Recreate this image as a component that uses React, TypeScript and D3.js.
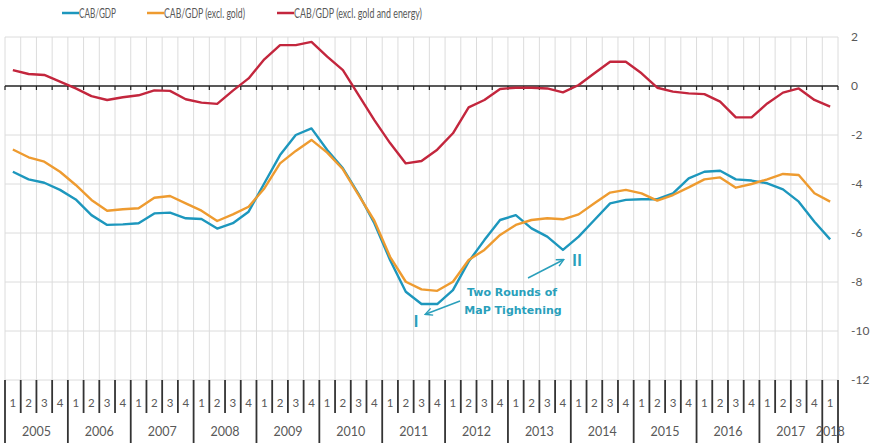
import React from "react";
import * as d3 from "d3";

const years = ["2005","2006","2007","2008","2009","2010","2011","2012","2013","2014","2015","2016","2017","2018"];
const quarterLabels = ["1","2","3","4"];
const yTicks = [2, 0, -2, -4, -6, -8, -10, -12];

const cabGdp = [-3.5,-3.81,-3.95,-4.24,-4.63,-5.27,-5.67,-5.65,-5.6,-5.2,
  -5.17,-5.4,-5.43,-5.82,-5.6,-5.13,-3.97,-2.82,-2.0,-1.73,
  -2.61,-3.36,-4.41,-5.6,-7.1,-8.4,-8.9,-8.9,-8.33,-7.17,
  -6.29,-5.47,-5.27,-5.81,-6.15,-6.69,-6.15,-5.47,-4.79,-4.65,
  -4.62,-4.62,-4.38,-3.77,-3.5,-3.46,-3.81,-3.86,-3.97,-4.22,
  -4.72,-5.54,-6.26];
const cabExGold = [-2.59,-2.91,-3.09,-3.5,-4.04,-4.65,-5.09,-5.03,-4.99,-4.56,
  -4.49,-4.79,-5.09,-5.51,-5.24,-4.93,-4.18,-3.16,-2.65,-2.2,
  -2.72,-3.4,-4.45,-5.5,-6.97,-7.99,-8.3,-8.36,-7.99,-7.1,
  -6.69,-6.08,-5.67,-5.47,-5.4,-5.44,-5.24,-4.79,-4.35,-4.24,
  -4.38,-4.68,-4.45,-4.14,-3.81,-3.73,-4.15,-4.0,-3.81,-3.59,
  -3.63,-4.38,-4.72];
const cabExGoldEnergy = [0.65,0.49,0.45,0.18,-0.1,-0.41,-0.57,-0.46,-0.38,-0.18,
  -0.2,-0.54,-0.68,-0.73,-0.19,0.31,1.09,1.67,1.67,1.8,
  1.2,0.65,-0.37,-1.39,-2.33,-3.16,-3.06,-2.6,-1.93,-0.87,
  -0.57,-0.12,-0.07,-0.07,-0.1,-0.26,0.04,0.52,0.99,0.99,
  0.52,-0.07,-0.23,-0.3,-0.33,-0.64,-1.28,-1.28,-0.71,-0.27,
  -0.1,-0.57,-0.84];

const seriesNames = ["CAB/GDP", "CAB/GDP (excl. gold)", "CAB/GDP (excl. gold and energy)"];
const colors = ["#1d97bd", "#ee9b30", "#c3263d"];

const W = 880, H = 447;
const left = 5, right = 838, top = 37, bottom = 380;
const font = "Lato, 'Open Sans', sans-serif";
const legendFont = "'Liberation Sans Narrow', Lato, sans-serif";
const textGrey = "#595959";
const annColor = "#2a9fbb";

export default function App() {
  const n = cabGdp.length;
  const x = d3.scaleLinear().domain([0, n]).range([left, right]);
  const y = d3.scaleLinear().domain([-12, 2]).range([bottom, top]);
  const line = d3.line<number>().x((_, i) => x(i + 0.5)).y((d) => y(d));
  const all = [cabGdp, cabExGold, cabExGoldEnergy];
  const bounds = d3.range(n + 1);

  const legendX = [62, 147, 277];
  const legendLen = [37, 81, 128];

  return (
    <svg width={W} height={H} style={{ position: "absolute", left: 0, top: 0, background: "#fff" }}>
      {/* grid */}
      {bounds.map((b) => (
        <line key={"vg" + b} x1={x(b)} x2={x(b)} y1={top} y2={bottom} stroke="#dcdcdc" strokeWidth={1} />
      ))}
      {yTicks.filter((t) => t !== 0).map((t) => (
        <line key={"hg" + t} x1={left} x2={right} y1={y(t)} y2={y(t)} stroke="#dcdcdc" strokeWidth={1} />
      ))}
      {/* zero axis */}
      <line x1={left} x2={right} y1={y(0)} y2={y(0)} stroke="#222" strokeWidth={1.5} />
      {bounds.map((b) => (
        <line key={"zt" + b} x1={x(b)} x2={x(b)} y1={y(0)} y2={y(0) + 4} stroke="#222" strokeWidth={1.2} />
      ))}
      {/* y labels */}
      {yTicks.map((t) => (
        <text key={"yl" + t} x={851} y={y(t) + 4} fontSize={12} fill={textGrey} fontFamily={font}>{t}</text>
      ))}
      {/* series */}
      {all.map((s, k) => (
        <path key={"s" + k} d={line(s) || ""} fill="none" stroke={colors[k]} strokeWidth={2.4} strokeLinejoin="round" />
      ))}
      {/* bottom category axis */}
      {bounds.map((b) => {
        const isYear = b % 4 === 0 || b === n;
        return (
          <line key={"cb" + b} x1={x(b)} x2={x(b)} y1={bottom} y2={isYear ? 443 : 413} stroke="#333" strokeWidth={1.8} />
        );
      })}
      {d3.range(n).map((i) => (
        <text key={"ql" + i} x={x(i + 0.5)} y={407} textAnchor="middle" fontSize={11.5} fill={textGrey} fontFamily={font}>
          {quarterLabels[i % 4]}
        </text>
      ))}
      {years.map((yr, j) => {
        const a = j * 4;
        const b = Math.min(a + 4, n);
        return (
          <text key={"yr" + yr} x={(x(a) + x(b)) / 2} y={436} textAnchor="middle" fontSize={12.5} fill={textGrey} fontFamily={font}>
            {yr}
          </text>
        );
      })}
      {/* legend */}
      {seriesNames.map((name, k) => (
        <g key={"lg" + k}>
          <line x1={legendX[k]} x2={legendX[k] + 17} y1={13} y2={13} stroke={colors[k]} strokeWidth={2.5} />
          <text x={legendX[k] + 17} y={17.5} fontSize={13} fill={textGrey} fontFamily={legendFont}
            textLength={legendLen[k]} lengthAdjust="spacingAndGlyphs">{name}</text>
        </g>
      ))}
      {/* annotations */}
      <defs>
        <marker id="arr" viewBox="0 0 10 10" refX="8" refY="5" markerWidth="6" markerHeight="6" orient="auto-start-reverse">
          <path d="M1,1 L9,5 L1,9" fill="none" stroke={annColor} strokeWidth={1.6} />
        </marker>
      </defs>
      <text x={512} y={296} textAnchor="middle" fontSize={11} fontWeight="bold" fill={annColor} fontFamily="'DejaVu Sans', Verdana, sans-serif">Two Rounds of</text>
      <text x={513} y={314} textAnchor="middle" fontSize={11} fontWeight="bold" fill={annColor} fontFamily="'DejaVu Sans', Verdana, sans-serif">MaP Tightening</text>
      <line x1={460} y1={301} x2={426} y2={314} stroke={annColor} strokeWidth={1.5} markerEnd="url(#arr)" />
      <line x1={528} y1={278} x2={563} y2={260} stroke={annColor} strokeWidth={1.5} markerEnd="url(#arr)" />
      <text x={416} y={327} textAnchor="middle" fontSize={17} fontWeight="bold" fill={annColor} fontFamily={font}>I</text>
      <text x={577} y={266} textAnchor="middle" fontSize={17} fontWeight="bold" fill={annColor} fontFamily={font}>II</text>
    </svg>
  );
}
